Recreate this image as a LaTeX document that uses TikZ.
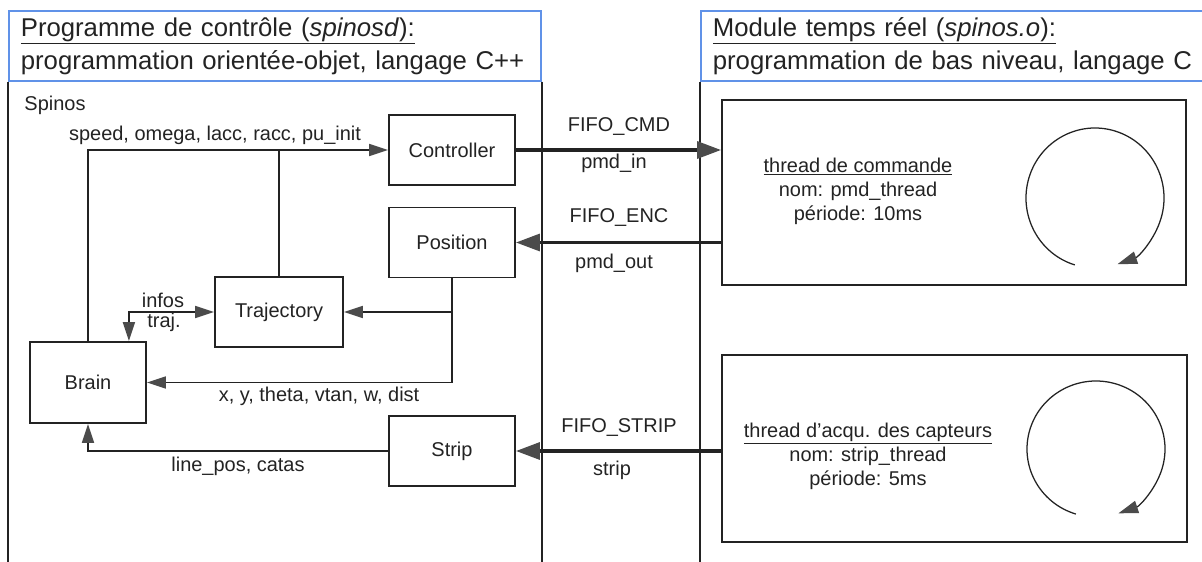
\documentclass[tikz,border=0pt]{standalone}
\usepackage{fontspec}
\setmainfont{Liberation Sans}
\usetikzlibrary{calc,arrows.meta}
\definecolor{headblue}{RGB}{96,146,232}
\definecolor{ink}{RGB}{35,35,35}
\definecolor{tipgray}{RGB}{75,75,75}

\begin{document}
\begin{tikzpicture}[x=1cm,y=1cm,>={Triangle[length=13.5pt,width=8.5pt,color=tipgray]},head/.style={draw=headblue,line width=1.2pt,anchor=north west,align=left,minimum height=1.75cm,inner xsep=0.3cm,inner ysep=0pt,text=ink,font=\fontsize{18.3pt}{23.5pt}\selectfont},blk/.style={draw=ink,line width=1.3pt,fill=white,minimum width=3.15cm,minimum height=1.75cm,inner sep=0pt,text=ink,font=\fontsize{14.2pt}{17pt}\selectfont},thr/.style={draw=ink,line width=1.3pt,inner sep=0pt},lbl/.style={inner sep=0pt,text=ink,font=\fontsize{14.2pt}{17pt}\selectfont},info/.style={lbl,align=center},wire/.style={draw=ink,line width=1.3pt},edge/.style={wire,->},biedge/.style={wire,<->},fifo/.style={draw=ink,line width=2.4pt,-{Triangle[length=17pt,width=12pt,color=tipgray]}},loop/.style={draw=ink,line width=0.9pt,-{Triangle[length=14pt,width=9pt,color=tipgray]}}]
\useasboundingbox (0,0) rectangle (30.05,-14.025);
\clip (0,0) rectangle (30.05,-14.025);
% the two panels
\node[head,text width=12.7cm] (ctrlhead) at (0.2,-0.25) {\underline{Programme de contrôle (\textit{spinosd}):}\\programmation orientée-objet, langage C++};
\node[head,text width=12.2cm] (rthead) at (17.5,-0.25) {\underline{Module temps réel (\textit{spinos.o}):}\\programmation de bas niveau, langage C};
\draw[wire] (ctrlhead.south west) -- ++(0,-12.2);
\draw[wire] (ctrlhead.south east) -- ++(0,-12.2);
\draw[wire] (rthead.south west) -- ++(0,-12.2);
\node[lbl] (spinos) at (1.375,-2.625) {Spinos};
% objects of spinosd
\node[blk] (ctrl) at (11.3,-3.75) {Controller};
\node[blk] (pos) at (11.3,-6.0625) {Position};
\node[blk,minimum width=3.2cm] (traj) at (6.975,-7.8) {Trajectory};
\node[blk,minimum width=2.9cm,minimum height=2.025cm] (brain) at (2.2,-9.5625) {Brain};
\node[blk] (strip) at (11.3,-11.275) {Strip};
% real time threads
\node[thr,minimum width=11.6cm,minimum height=4.625cm] (cmdthread) at (23.85,-4.8125) {};
\node[thr,minimum width=11.625cm,minimum height=4.675cm] (capthread) at (23.8625,-11.2125) {};
\node[info] (cmdinfo) at (21.45,-4.775) {\underline{thread de commande}\\nom: pmd\_thread\\période: 10ms};
\node[info] (capinfo) at (21.7,-11.4) {\underline{thread d'acqu. des capteurs}\\nom: strip\_thread\\période: 5ms};
\coordinate (cmdloop) at (27.375,-4.95);
\coordinate (caploop) at (27.4,-11.225);
\draw[loop] ($(cmdloop)+(253:1.725cm and 1.75cm)$) arc[start angle=253,end angle=-71,x radius=1.725,y radius=1.75];
\draw[loop] ($(caploop)+(253:1.725cm and 1.7cm)$) arc[start angle=253,end angle=-71,x radius=1.725,y radius=1.7];
% data flow inside spinosd
\draw[edge] (brain.north) |- (ctrl.west);
\draw[wire] (traj.north) -- (traj.north |- ctrl.west);
\node[lbl] (cmdargs) at (5.375,-3.375) {speed, omega, lacc, racc, pu\_init};
\draw[biedge] ([xshift=-0.45cm]brain.north east) |- (traj.west);
\node[lbl] (infos) at (4.075,-7.5) {infos};
\node[lbl] (trajlbl) at (4.1,-8.05) {traj.};
\draw[edge] (pos.south) |- (traj.east);
\draw[edge] (pos.south) |- (brain.east);
\node[lbl] (odom) at (7.975,-9.9) {x, y, theta, vtan, w, dist};
\draw[edge] (strip.west) -| (brain.south);
\node[lbl] (linelbl) at (5.95,-11.65) {line\_pos, catas};
% fifos
\draw[fifo] (ctrl.east) -- (ctrl.east -| cmdthread.west);
\draw[fifo] (pos.east -| cmdthread.west) -- (pos.east);
\draw[fifo] (strip.east -| capthread.west) -- (strip.east);
\node[lbl] (fifocmd) at (15.475,-3.175) {FIFO\_CMD};
\node[lbl] (pmdin) at (15.35,-4.075) {pmd\_in};
\node[lbl] (fifoenc) at (15.475,-5.45) {FIFO\_ENC};
\node[lbl] (pmdout) at (15.35,-6.575) {pmd\_out};
\node[lbl] (fifostrip) at (15.475,-10.7) {FIFO\_STRIP};
\node[lbl] (stripdev) at (15.3,-11.75) {strip};
\end{tikzpicture}
\end{document}
